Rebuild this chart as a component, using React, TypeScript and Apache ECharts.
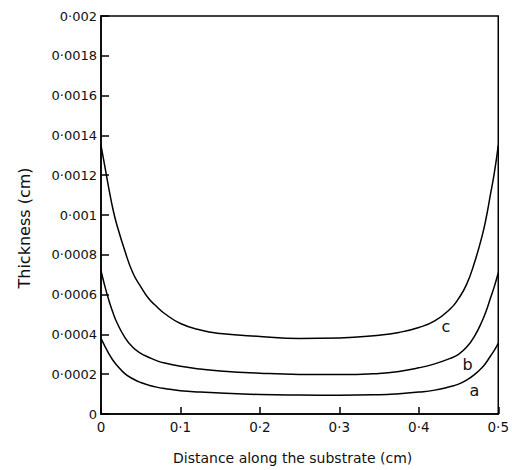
import React, { useEffect, useRef } from "react";
import * as echarts from "echarts";

const xValues = [0, 0.005, 0.01, 0.015, 0.02, 0.03, 0.04, 0.05, 0.06, 0.07, 0.08, 0.1, 0.125, 0.15, 0.2, 0.25, 0.3, 0.35, 0.375, 0.4, 0.42, 0.44, 0.45, 0.46, 0.47, 0.48, 0.485, 0.49, 0.495, 0.5];
const curveA = [0.00038, 0.00034, 0.000302, 0.00027, 0.000245, 0.000203, 0.000177, 0.000158, 0.000145, 0.000135, 0.000128, 0.000117, 0.00011, 0.000105, 0.000098, 0.000095, 0.000094, 0.000097, 0.000102, 0.00011, 0.00012, 0.000138, 0.00015, 0.00017, 0.000198, 0.000235, 0.00026, 0.00029, 0.00032, 0.000355];
const curveB = [0.00072, 0.00064, 0.00057, 0.00051, 0.00046, 0.000385, 0.000335, 0.000305, 0.000285, 0.000268, 0.000256, 0.00024, 0.000226, 0.000216, 0.000205, 0.000199, 0.000198, 0.000204, 0.000214, 0.000232, 0.000252, 0.00028, 0.0003, 0.000335, 0.00039, 0.00047, 0.00052, 0.00058, 0.00064, 0.00071];
const curveC = [0.00135, 0.00124, 0.00113, 0.00103, 0.00095, 0.00082, 0.00071, 0.00064, 0.00058, 0.00054, 0.000505, 0.000455, 0.000422, 0.000405, 0.00039, 0.00038, 0.000382, 0.000396, 0.00041, 0.000435, 0.000468, 0.00053, 0.00058, 0.00065, 0.00076, 0.0009, 0.00099, 0.0011, 0.00121, 0.00135];
const seriesNames = ["a", "b", "c"];
const labelPositions = [[0.47, 0.00012], [0.4615, 0.00025], [0.434, 0.00044]];
const xTickLabels = ["0", "0·1", "0·2", "0·3", "0·4", "0·5"];
const yTickLabels = ["0", "0·0002", "0·0004", "0·0006", "0·0008", "0·001", "0·0012", "0·0014", "0·0016", "0·0018", "0·002"];

const FONT = "DejaVu Sans";

export default function App() {
  const ref = useRef<HTMLDivElement>(null);
  useEffect(() => {
    if (!ref.current) return;
    const chart = echarts.init(ref.current, null, { renderer: "svg" });
    const curves = [curveA, curveB, curveC];
    chart.setOption({
      animation: false,
      backgroundColor: "#fff",
      grid: {
        left: 101,
        right: 8,
        top: 16,
        bottom: 54,
        show: true,
        borderColor: "#000",
        borderWidth: 1.5,
      },
      xAxis: {
        type: "value",
        min: 0,
        max: 0.5,
        interval: 0.1,
        name: "Distance along the substrate (cm)",
        nameLocation: "middle",
        nameGap: 37,
        nameTextStyle: { fontFamily: FONT, fontSize: 14, color: "#111", padding: [0, 14, 0, 0] },
        axisLine: { lineStyle: { color: "#000", width: 1.5 } },
        axisTick: { inside: true, length: 7, lineStyle: { color: "#000", width: 1.5 } },
        splitLine: { show: false },
        axisLabel: {
          fontFamily: FONT,
          fontSize: 13.5,
          color: "#111",
          margin: 6,
          formatter: (v: number) => xTickLabels[Math.round(v / 0.1)],
        },
      },
      yAxis: {
        type: "value",
        min: 0,
        max: 0.002,
        interval: 0.0002,
        name: "Thickness (cm)",
        nameLocation: "middle",
        nameRotate: 90,
        nameGap: 69,
        nameTextStyle: { fontFamily: FONT, fontSize: 16, color: "#111", padding: [0, 26, 0, 0] },
        axisLine: { lineStyle: { color: "#000", width: 1.5 } },
        axisTick: { inside: true, length: 8, lineStyle: { color: "#000", width: 1.5 } },
        splitLine: { show: false },
        axisLabel: {
          fontFamily: FONT,
          fontSize: 13,
          color: "#111",
          margin: 4,
          formatter: (v: number) => yTickLabels[Math.round(v / 0.0002)],
        },
      },
      series: curves.map((vals, i) => ({
        name: seriesNames[i],
        type: "line",
        data: xValues.map((x, j) => [x, vals[j]]),
        smooth: 0.5,
        showSymbol: false,
        lineStyle: { color: "#000", width: 1.5 },
        markPoint: {
          symbol: "circle",
          symbolSize: 0,
          data: [{ coord: labelPositions[i] }],
          label: {
            show: true,
            formatter: seriesNames[i],
            fontFamily: FONT,
            fontSize: 16,
            color: "#111",
            position: "inside",
          },
        },
      })),
    });
    return () => chart.dispose();
  }, []);
  return (
    <div
      ref={ref}
      style={{ position: "absolute", left: 0, top: 0, width: 512, height: 470 }}
    />
  );
}
